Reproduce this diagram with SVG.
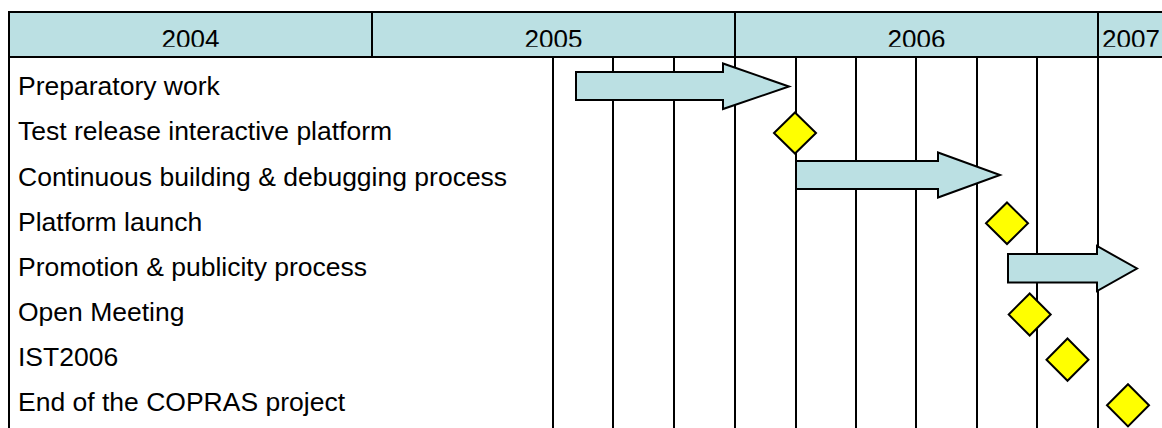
<svg xmlns="http://www.w3.org/2000/svg" width="1162" height="428" viewBox="0 0 1162 428">
  <style>
    .hdr { fill: #BBE0E3; stroke: #000; stroke-width: 2; }
    .grid { stroke: #000; stroke-width: 2; fill: none; }
    .yr { font-family: "Liberation Sans", Arial, sans-serif; font-size: 26px; fill: #000; }
    .lbl { font-family: "Liberation Sans", Arial, sans-serif; font-size: 26.5px; fill: #000; }
    .bar { fill: #BBE0E3; stroke: #000; stroke-width: 2; stroke-linejoin: miter; }
    .ms { fill: #FFFF00; stroke: #000; stroke-width: 2; stroke-linejoin: miter; }
  </style>
  <defs>
    <clipPath id="hclip"><rect x="0" y="12" width="1162" height="34.8"/></clipPath>
  </defs>
  <rect width="1162" height="428" fill="#fff"/>

  <g id="header">
    <rect class="hdr" x="9" y="12" width="1170" height="45"/>
    <line class="grid" x1="372" y1="12" x2="372" y2="57"/>
    <line class="grid" x1="735" y1="12" x2="735" y2="57"/>
    <line class="grid" x1="1098" y1="12" x2="1098" y2="57"/>
    <g clip-path="url(#hclip)">
      <text class="yr" x="190.5" y="48.4" text-anchor="middle">2004</text>
      <text class="yr" x="553.5" y="48.4" text-anchor="middle">2005</text>
      <text class="yr" x="916.5" y="48.4" text-anchor="middle">2006</text>
      <text class="yr" x="1102" y="48.4">2007</text>
    </g>
  </g>

  <g id="grid">
    <line class="grid" x1="9" y1="56" x2="9" y2="430"/>
    <line class="grid" x1="553" y1="57" x2="553" y2="430"/>
    <line class="grid" x1="613" y1="57" x2="613" y2="430"/>
    <line class="grid" x1="674" y1="57" x2="674" y2="430"/>
    <line class="grid" x1="735" y1="57" x2="735" y2="430"/>
    <line class="grid" x1="796" y1="57" x2="796" y2="430"/>
    <line class="grid" x1="856" y1="57" x2="856" y2="430"/>
    <line class="grid" x1="916" y1="57" x2="916" y2="430"/>
    <line class="grid" x1="977" y1="57" x2="977" y2="430"/>
    <line class="grid" x1="1037" y1="57" x2="1037" y2="430"/>
    <line class="grid" x1="1098" y1="57" x2="1098" y2="430"/>
  </g>

  <g id="labels">
    <text class="lbl" x="18" y="95">Preparatory work</text>
    <text class="lbl" x="18" y="140">Test release interactive platform</text>
    <text class="lbl" x="18" y="185.5">Continuous building &amp; debugging process</text>
    <text class="lbl" x="18" y="230.5">Platform launch</text>
    <text class="lbl" x="18" y="275.5">Promotion &amp; publicity process</text>
    <text class="lbl" x="18" y="321">Open Meeting</text>
    <text class="lbl" x="18" y="366">IST2006</text>
    <text class="lbl" x="18" y="411">End of the COPRAS project</text>
  </g>

  <g id="task-preparatory">
    <polygon class="bar" points="576,72 723,72 723,63.5 789,86.5 723,109 723,100 576,100"/>
  </g>
  <g id="milestone-test-release">
    <polygon class="ms" points="795,112.5 816,133 795,153.5 774,133"/>
  </g>
  <g id="task-continuous">
    <polygon class="bar" points="796,161 938,161 938,152.5 1000,175 938,197.5 938,189 796,189"/>
  </g>
  <g id="milestone-platform-launch">
    <polygon class="ms" points="1007,202.5 1028,223.3 1007,244 986,223.3"/>
  </g>
  <g id="task-promotion">
    <polygon class="bar" points="1008,254 1097,254 1097,246 1137,268.5 1097,291 1097,282.5 1008,282.5"/>
  </g>
  <g id="milestone-open-meeting">
    <polygon class="ms" points="1029.7,293.5 1050.7,314.5 1029.7,335.5 1008.7,314.5"/>
  </g>
  <g id="milestone-ist2006">
    <polygon class="ms" points="1067.5,338.5 1088.5,359.7 1067.5,380.8 1046.5,359.7"/>
  </g>
  <g id="milestone-end">
    <polygon class="ms" points="1128,384.2 1149,405.3 1128,426.4 1107,405.3"/>
  </g>
  <g id="connectors"></g>
</svg>
